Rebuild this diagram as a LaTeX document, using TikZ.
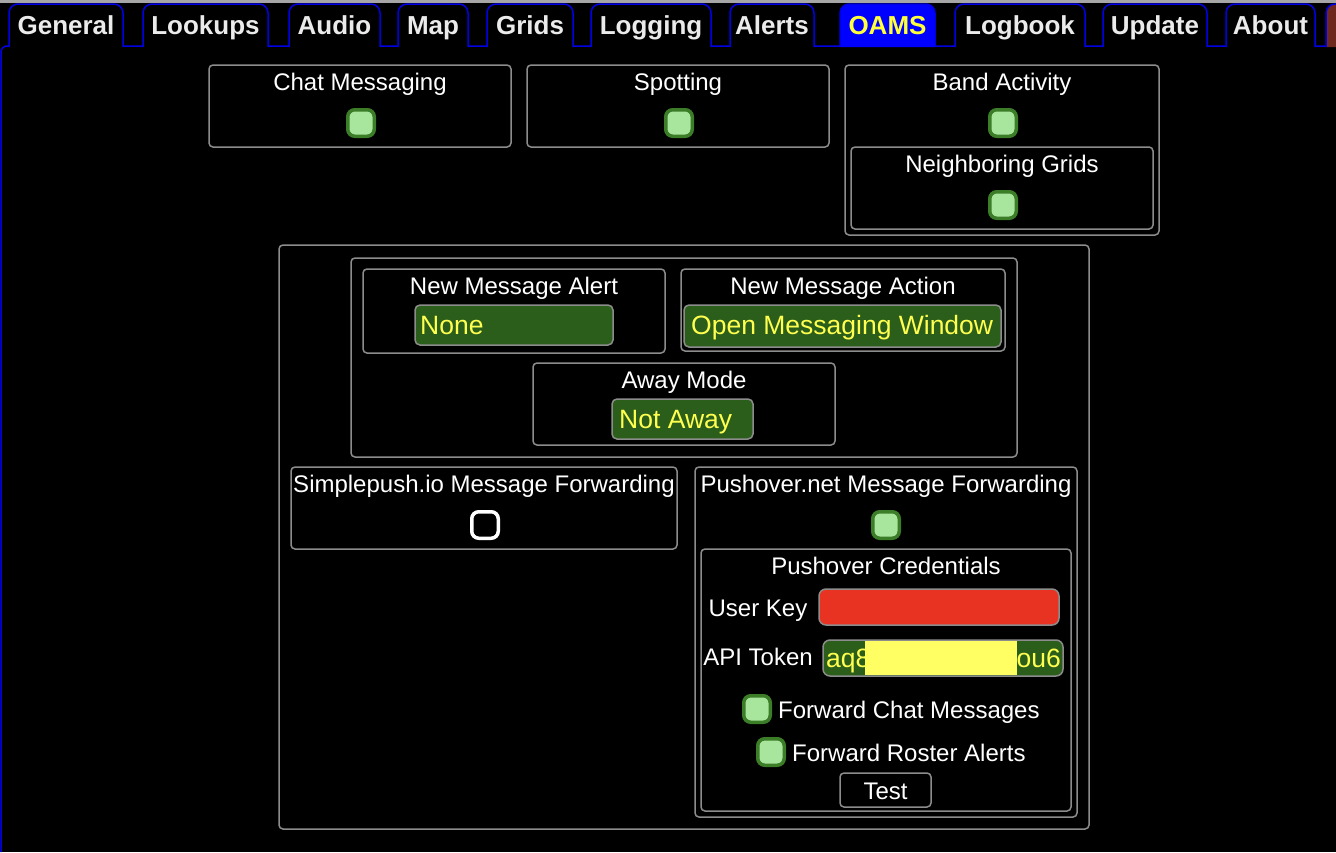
\documentclass[tikz,border=0pt]{standalone}
\usepackage{fontspec}
\setmainfont{Liberation Sans}
\definecolor{cbd}{RGB}{60,125,40}
\definecolor{cbf}{RGB}{168,230,158}
\definecolor{ddg}{RGB}{42,94,26}
\definecolor{ylw}{RGB}{255,255,80}
\definecolor{ylw2}{RGB}{255,255,100}
\definecolor{redf}{RGB}{232,51,35}
\definecolor{brn}{RGB}{110,40,30}
\definecolor{ylt}{RGB}{255,255,60}
\begin{document}
\begin{tikzpicture}[x=1pt,y=-1pt,
 box/.style={draw=black!45,line width=1.5pt,rounded corners=4pt},
 tab/.style={draw=blue!90!black,line width=1.5pt,rounded corners=9pt,fill=black},
 tabt/.style={text=white!92!black,font=\bfseries\fontsize{26}{30}\selectfont,anchor=base,inner sep=0pt},
 lbl/.style={text=white,font=\fontsize{24}{28}\selectfont},
 lblb/.style={lbl,anchor=base,inner sep=0pt},
 cb/.style={draw=cbd,fill=cbf,line width=3.5pt,rounded corners=7pt,minimum size=26.5pt,inner sep=0pt},
 dd/.style={draw=black!45,line width=1.5pt,rounded corners=5pt,fill=ddg},
 ddt/.style={text=ylw,font=\fontsize{26.5}{30}\selectfont,anchor=base west,inner sep=0pt}]
\useasboundingbox (0,0) rectangle (1336,852);
\fill[black] (0,0) rectangle (1336,852);
\fill[black!35] (0,0) rectangle (1336,3);
\draw[blue!90!black,line width=1.5pt,rounded corners=6pt] (1,852) -- (1,46) -- (1340,46);
% tabs
\foreach \a/\b/\t/\n in {9/123/General/t1,143/268/Lookups/t2,289/380/Audio/t3,398/468/Map/t4,487/573/Grids/t5,591/711/Logging/t6,730/814/Alerts/t7,955/1085/Logbook/t9,1103/1207/Update/t10,1226/1315/About/t11}{
 \draw[tab] (\a,47) -- (\a,4) -- (\b,4) -- (\b,47);
 \node[tabt] (\n) at ({(\a+\b)/2},34) {\t};
}
\draw[tab,fill=blue] (840,47) -- (840,4) -- (935,4) -- (935,47);
\node[tabt,text=ylt] (t8) at (887.5,34) {OAMS};
\draw[tab,fill=brn] (1326,47) -- (1326,4) -- (1345,4) -- (1345,47);
% top row
\draw[box] (209,65) rectangle (511,147);
\node[lblb] (chat) at (360,90) {Chat Messaging};
\node[cb] (chatcb) at (361,123) {};
\draw[box] (527,65) rectangle (829,147);
\node[lblb] (spot) at (678,90) {Spotting};
\node[cb] (spotcb) at (679,123) {};
\draw[box] (845,65) rectangle (1159,235);
\node[lblb] (band) at (1002,90) {Band Activity};
\node[cb] (bandcb) at (1003,123) {};
\draw[box] (851,147) rectangle (1153,229);
\node[lblb] (ngrid) at (1002,172) {Neighboring Grids};
\node[cb] (ngridcb) at (1003,205) {};
% big
\draw[box] (279,245) rectangle (1089,829);
\draw[box] (351,258) rectangle (1017,457);
\draw[box] (363,269) rectangle (665,353);
\node[lblb] (nma) at (514,294) {New Message Alert};
\draw[dd] (415,305) rectangle (613,345);
\node[ddt] (none) at (420,334) {None};
\draw[box] (681,269) rectangle (1005,351);
\node[lblb] (nmact) at (843,294) {New Message Action};
\draw[dd] (684,305) rectangle (1001,347);
\node[ddt] (omw) at (691,334) {Open Messaging Window};
\draw[box] (533,363) rectangle (835,445);
\node[lblb] (away) at (684,388) {Away Mode};
\draw[dd] (612,399) rectangle (753,439);
\node[ddt] (na) at (619,428) {Not Away};
% forwarding
\draw[box] (291,467) rectangle (677,549);
\node[lblb] (sp) at (484,492) {Simplepush.io Message Forwarding};
\node[cb,draw=white,fill=black] (spcb) at (485,525) {};
\draw[box] (695,467) rectangle (1077,817);
\node[lblb] (po) at (886,492) {Pushover.net Message Forwarding};
\node[cb] (pocb) at (886,525) {};
\draw[box] (701,549) rectangle (1071,811);
\node[lblb] (pc) at (886,574) {Pushover Credentials};
\node[lblb] (uk) at (758,616) {User Key};
\draw[draw=black!45,line width=1.5pt,rounded corners=7pt,fill=redf] (819,589) rectangle (1059,625);
\node[lblb] (api) at (758,665) {API Token};
\draw[dd,rounded corners=7pt] (823,640) rectangle (1063,676);
\fill[ylw2] (865,641) rectangle (1017,675);
\node[ddt] (aq) at (826,667) {aq8};
\node[ddt,anchor=base east] (ou) at (1061,667) {ou6};
\node[cb] (fcm) at (757,709) {};
\node[lbl,anchor=base west,inner sep=0pt] (fcmt) at (778,718) {Forward Chat Messages};
\node[cb] (fra) at (771,752) {};
\node[lbl,anchor=base west,inner sep=0pt] (frat) at (792,761) {Forward Roster Alerts};
\draw[box] (840,773) rectangle (931,807);
\node[lblb] (test) at (885.5,799) {Test};
\end{tikzpicture}
\end{document}
